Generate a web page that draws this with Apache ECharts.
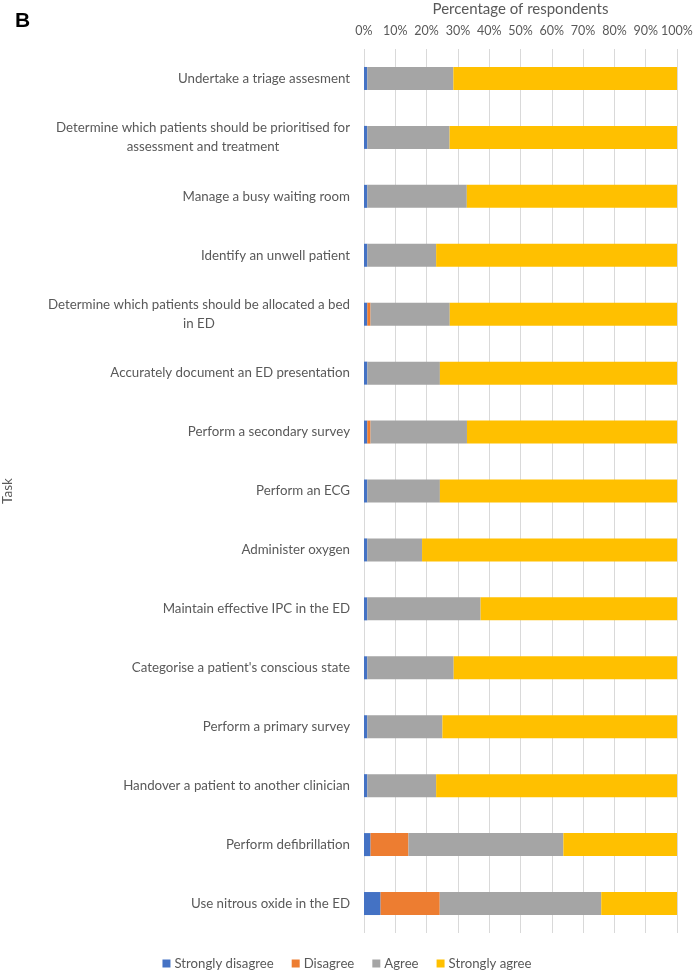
<!DOCTYPE html>
<html>
<head>
<meta charset="utf-8">
<script src="https://cdn.jsdelivr.net/npm/echarts@6/dist/echarts.min.js"></script>
<style>
html,body{margin:0;padding:0;background:#fff;}
#chart{width:694px;height:973px;}
</style>
</head>
<body>
<div id="chart"></div>
<script>
const categories = [
  "Undertake a triage assesment",
  "Determine which patients should be prioritised for\nassessment and treatment",
  "Manage a busy waiting room",
  "Identify an unwell patient",
  "Determine which patients should be allocated a bed\nin ED",
  "Accurately document an ED presentation",
  "Perform a secondary survey",
  "Perform an ECG",
  "Administer oxygen",
  "Maintain effective IPC in the ED",
  "Categorise a patient's conscious state",
  "Perform a primary survey",
  "Handover a patient to another clinician",
  "Perform defibrillation",
  "Use nitrous oxide in the ED"
];
const stronglyDisagree = [1.05, 1.05, 1.05, 1.05, 1.05, 1.05, 1.05, 1.05, 1.05, 1.05, 1.05, 1.05, 1.05, 2.1, 5.3];
const disagree         = [0, 0, 0, 0, 1.05, 0, 1.05, 0, 0, 0, 0, 0, 0, 12.1, 18.9];
const agree            = [27.5, 26.3, 31.8, 22.0, 25.3, 23.2, 30.8, 23.2, 17.5, 36.2, 27.6, 24.0, 22.0, 49.5, 51.6];
const stronglyAgree    = [71.45, 72.65, 67.15, 76.95, 72.6, 75.75, 67.1, 75.75, 81.45, 62.75, 71.35, 74.95, 76.95, 36.3, 24.2];
const xTicks = [0, 10, 20, 30, 40, 50, 60, 70, 80, 90, 100];
const seriesNames = ["Strongly disagree", "Disagree", "Agree", "Strongly agree"];
const seriesColors = ["#4472C4", "#ED7D31", "#A5A5A5", "#FFC000"];

const FONT = "Lato";
const chart = echarts.init(document.getElementById('chart'), null, {renderer: 'canvas'});
const dataSets = [stronglyDisagree, disagree, agree, stronglyAgree];

chart.setOption({
  animation: false,
  backgroundColor: '#fff',
  textStyle: {fontFamily: FONT},
  title: {
    text: 'B', left: 10, top: 6,
    textStyle: {fontFamily: 'Liberation Sans', fontWeight: 'bold', fontSize: 21, color: '#000'}
  },
  legend: {
    top: 952, left: 'center',
    itemWidth: 8, itemHeight: 8, itemGap: 18,
    icon: 'rect',
    data: seriesNames,
    textStyle: {fontFamily: FONT, fontSize: 13.2, color: '#595959', padding: [0,0,0,-1]}
  },
  grid: {left: 364, right: 17, top: 49, bottom: 40, containLabel: false, outerBoundsMode: 'none'},
  xAxis: {
    type: 'value', position: 'top', min: 0, max: xTicks[xTicks.length - 1], interval: 10,
    name: 'Percentage of respondents', nameLocation: 'middle', nameGap: 32,
    nameTextStyle: {fontFamily: FONT, fontSize: 15, color: '#595959'},
    axisLine: {show: false}, axisTick: {show: false},
    axisLabel: {formatter: v => v + '%', fontSize: 12.5, color: '#595959', margin: 12, fontFamily: FONT},
    splitLine: {show: true, lineStyle: {color: '#D9D9D9', width: 1}}
  },
  yAxis: {
    type: 'category', data: categories, inverse: true,
    name: 'Task', nameLocation: 'middle', nameGap: 349, nameRotate: 90,
    nameTextStyle: {fontFamily: FONT, fontSize: 13.5, color: '#595959'},
    axisLine: {show: false}, axisTick: {show: false},
    axisLabel: {
      fontSize: 13.3, color: '#595959', margin: 14, fontFamily: FONT, lineHeight: 19,
      formatter: v => v.split('\n').map(s => '{c|' + s + '}').join('\n'),
      rich: {c: {align: 'center', fontSize: 13.3, color: '#595959', fontFamily: FONT, lineHeight: 19}}
    }
  },
  series: seriesNames.map((n, i) => ({
    name: n, type: 'bar', stack: 'total', barWidth: 23,
    itemStyle: {color: seriesColors[i]},
    data: dataSets[i]
  }))
});
</script>
</body>
</html>
